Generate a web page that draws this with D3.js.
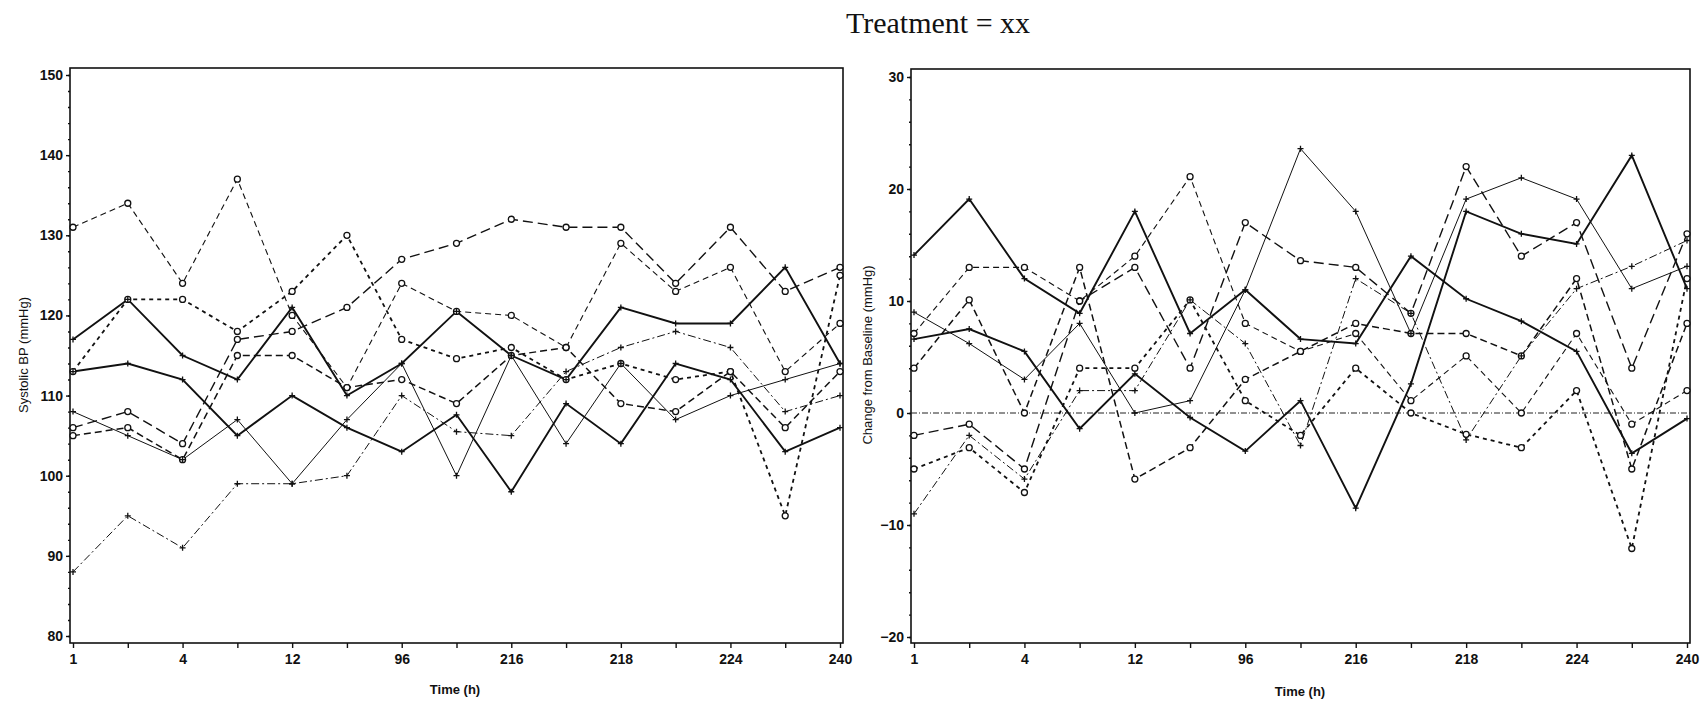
<!DOCTYPE html>
<html>
<head>
<meta charset="utf-8">
<script src="https://cdn.jsdelivr.net/npm/d3@7"></script>
<style>
  body { margin: 0; background: #fff; }
  text { font-family: "Liberation Sans Narrow", "Arial Narrow", "Liberation Sans", sans-serif; fill: #111; }
</style>
</head>
<body>
<script>
// x categories (15 visits, only every other one is labelled)
const tickLabels = ["1", "", "4", "", "12", "", "96", "", "216", "", "218", "", "224", "", "240"];

// systolic BP per subject (mmHg)
const sbpA = [131, 134, 124, 137, 120, 111, 124, 120.5, 120, 116, 129, 123, 126, 113, 119];
const sbpB = [106, 108, 104, 117, 118, 121, 127, 129, 132, 131, 131, 124, 131, 123, 126];
const sbpC = [113, 122, 122, 118, 123, 130, 117, 114.6, 116, 112, 114, 112, 113, 95, 125];
const sbpD = [105, 106, 102, 115, 115, 111, 112, 109, 115, 116, 109, 108, 113, 106, 113];
const sbpE = [117, 122, 115, 112, 121, 110, 114, 120.5, 115, 112, 121, 119, 119, 126, 114];
const sbpF = [113, 114, 112, 105, 110, 106, 103, 107.6, 98, 109, 104, 114, 112, 103, 106];
const sbpG = [108, 105, 102, 107, 99, 107, 114, 100, 115, 104, 114, 107, 110, 112, 114];
const sbpH = [88, 95, 91, 99, 99, 100, 110, 105.5, 105, 113, 116, 118, 116, 108, 110];

// change from baseline per subject (mmHg)
const chgA = [7.1, 13, 13, 10, 14, 21.1, 8, 5.5, 7.1, 1.1, 5.1, 0, 7.1, -1, 2];
const chgB = [-2, -1, -5, 10, 13, 4, 17, 13.6, 13, 8.9, 22, 14, 17, 4, 16];
const chgC = [-5, -3.1, -7.1, 4, 4, 10.1, 1.1, -2, 4, 0, -1.9, -3.1, 2, -12.1, 12];
const chgD = [4, 10.1, 0, 13, -5.9, -3.1, 3, 5.5, 8, 7.1, 7.1, 5.1, 12, -5, 8];
const chgE = [14.1, 19.1, 12, 8.9, 18, 7.1, 11, 6.6, 6.2, 14, 10.2, 8.2, 5.5, -3.6, -0.5];
const chgF = [6.6, 7.5, 5.5, -1.4, 3.5, -0.4, -3.4, 1.1, -8.5, 2.6, 18, 16, 15.1, 23, 11.1];
const chgG = [9, 6.2, 3, 8, 0, 1.1, 11, 23.6, 18, 7.1, 19.1, 21, 19.1, 11.1, 13.1];
const chgH = [-9, -2, -5.9, 2, 2, 10.1, 6.2, -2.9, 12, 8.9, -2.4, 5.1, 11.1, 13.1, 15.4];

const sbpTicks = [80, 90, 100, 110, 120, 130, 140, 150];
const chgTicks = [-20, -10, 0, 10, 20, 30];

// line style per subject: symbol, dash, width
const styles = [
  { sym: "o", dash: "6,4", w: 1.1 },
  { sym: "o", dash: "10,5", w: 1.4 },
  { sym: "o", dash: "4,4", w: 1.8 },
  { sym: "o", dash: "7,4", w: 1.5 },
  { sym: "+", dash: null, w: 1.9 },
  { sym: "+", dash: null, w: 1.9 },
  { sym: "+", dash: null, w: 1 },
  { sym: "+", dash: "8,3,2,3", w: 1 }
];

const width = 1701, height = 704;
const svg = d3.select("body").append("svg").attr("width", width).attr("height", height);

svg.append("text")
  .attr("x", 938).attr("y", 33)
  .attr("text-anchor", "middle")
  .style("font-family", "'Liberation Serif', 'Times New Roman', serif")
  .style("font-size", "30px")
  .text("Treatment = xx");

function drawPanel(opt) {
  const g = svg.append("g");
  const x = d3.scalePoint().domain(d3.range(tickLabels.length)).range(opt.xr);
  const y = d3.scaleLinear().domain(opt.yd).range(opt.yr);

  // frame
  g.append("rect")
    .attr("x", opt.f[0]).attr("y", opt.f[1])
    .attr("width", opt.f[2] - opt.f[0]).attr("height", opt.f[3] - opt.f[1])
    .attr("fill", "none").attr("stroke", "#111").attr("stroke-width", 1.6);

  // y axis, major + minor ticks
  const ya = g.append("g").attr("transform", `translate(${opt.f[0]},0)`)
    .call(d3.axisLeft(y).tickValues(opt.ticks).tickSize(4).tickPadding(3));
  ya.select(".domain").remove();
  ya.selectAll("text").style("font-size", "14px").style("font-weight", "bold");
  g.append("g").attr("transform", `translate(${opt.f[0]},0)`)
    .call(d3.axisLeft(y).tickValues(d3.range(opt.yd[0], opt.yd[1] + 0.1, 2)).tickSize(2).tickFormat(""))
    .select(".domain").remove();

  // x axis
  const xa = g.append("g").attr("transform", `translate(0,${opt.f[3]})`)
    .call(d3.axisBottom(x).tickSize(5).tickPadding(6).tickFormat(i => tickLabels[i]));
  xa.select(".domain").remove();
  xa.selectAll("text").style("font-size", "14px").style("font-weight", "bold");
  g.selectAll(".tick line").attr("stroke", "#111").attr("stroke-width", 1.4);

  // reference line
  if (opt.ref !== undefined) {
    g.append("line")
      .attr("x1", opt.f[0]).attr("x2", opt.f[2])
      .attr("y1", y(opt.ref)).attr("y2", y(opt.ref))
      .attr("stroke", "#222").attr("stroke-width", 1)
      .attr("stroke-dasharray", "6,2,1,2");
  }

  const line = d3.line().x((d, i) => x(i)).y(d => y(d));
  const series = opt.series.map((vals, k) => ({ vals, st: styles[k] }));

  g.selectAll("path.subj").data(series).enter()
    .append("path").attr("class", "subj")
    .attr("d", d => line(d.vals))
    .attr("fill", "none").attr("stroke", "#111")
    .attr("stroke-width", d => d.st.w)
    .attr("stroke-dasharray", d => d.st.dash);

  series.forEach(s => {
    const pts = g.selectAll(null).data(s.vals).enter();
    if (s.st.sym === "o") {
      pts.append("circle")
        .attr("cx", (d, i) => x(i)).attr("cy", d => y(d)).attr("r", 3)
        .attr("fill", "#fff").attr("stroke", "#111").attr("stroke-width", 1.3);
    } else {
      pts.append("path")
        .attr("transform", (d, i) => `translate(${x(i)},${y(d)})`)
        .attr("d", "M-3,0H3M0,-3V3")
        .attr("stroke", "#111").attr("stroke-width", 1.3);
    }
  });

  g.append("text")
    .attr("x", opt.xlab[0]).attr("y", opt.xlab[1])
    .attr("text-anchor", "middle")
    .style("font-size", "13px").style("font-weight", "bold")
    .text("Time (h)");

  g.append("text")
    .attr("transform", `translate(${opt.ylab[0]},${opt.ylab[1]}) rotate(-90)`)
    .attr("text-anchor", "middle")
    .style("font-size", "13px")
    .text(opt.ytitle);
}

drawPanel({
  f: [70, 68, 843, 643], xr: [73, 840], yd: [80, 150], yr: [636, 75],
  ticks: sbpTicks,
  series: [sbpA, sbpB, sbpC, sbpD, sbpE, sbpF, sbpG, sbpH],
  xlab: [455, 694], ylab: [28, 355], ytitle: "Systolic BP (mmHg)"
});

drawPanel({
  f: [911, 69, 1690, 643], xr: [914, 1687], yd: [-20, 30], yr: [637, 77],
  ticks: chgTicks, ref: 0,
  series: [chgA, chgB, chgC, chgD, chgE, chgF, chgG, chgH],
  xlab: [1300, 696], ylab: [872, 355], ytitle: "Change from Baseline (mmHg)"
});
</script>
</body>
</html>
